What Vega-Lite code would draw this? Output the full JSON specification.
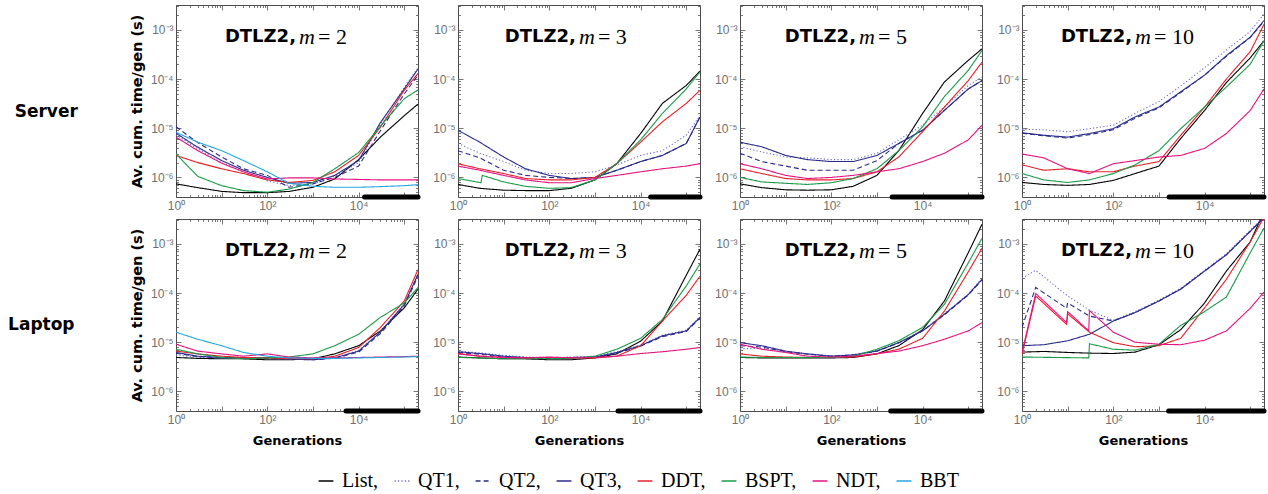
{
"$schema":"https://vega.github.io/schema/vega-lite/v6.json",
"background":"white",
"padding":{"left":8,"top":4,"right":2,"bottom":4},
"config":{
 "view":{"stroke":"#4d4d4d","strokeWidth":1},
 "axis":{"domain":false,"grid":false,"labelFont":"Liberation Sans","labelFontSize":12,"labelColor":"#707070","titleFont":"DejaVu Sans","titleFontWeight":"bold","titleFontSize":13,"titleColor":"black","tickColor":"#555555","tickWidth":0.8,"labelPadding":3,"labelFlush":false},
 "legend":{"orient":"bottom","direction":"horizontal","symbolType":"stroke","symbolSize":220,"symbolStrokeWidth":1.5,"labelFont":"Liberation Serif","labelFontSize":20,"labelColor":"black","columnPadding":12,"labelOffset":6,"offset":23,"padding":0,"layout":{"bottom":{"anchor":"middle"}}}
},
"datasets":{
"bars":[{"p":"S2","x":13500,"x2":200000},{"p":"S3","x":16600,"x2":200000},{"p":"S5","x":2150,"x2":200000},{"p":"S10","x":1670,"x2":200000},{"p":"L2","x":5300,"x2":200000},{"p":"L3","x":3200,"x2":200000},{"p":"L5","x":2000,"x2":200000},{"p":"L10","x":1630,"x2":200000}],
"lines":[
{"p":"S2","s":"List","x":1,"y":7.4e-7},{"p":"S2","s":"List","x":3,"y":6.2e-7},{"p":"S2","s":"List","x":10,"y":5.2e-7},{"p":"S2","s":"List","x":30,"y":4.9e-7},{"p":"S2","s":"List","x":100,"y":4.9e-7},{"p":"S2","s":"List","x":300,"y":5.2e-7},{"p":"S2","s":"List","x":1000,"y":6.3e-7},{"p":"S2","s":"List","x":3000,"y":9.3e-7},{"p":"S2","s":"List","x":10000,"y":2.3e-6},{"p":"S2","s":"List","x":30000,"y":6.6e-6},{"p":"S2","s":"List","x":100000,"y":1.8e-5},{"p":"S2","s":"List","x":200000,"y":3.1e-5},
{"p":"S2","s":"QT1","x":1,"y":7.4e-6},{"p":"S2","s":"QT1","x":3,"y":3.8e-6},{"p":"S2","s":"QT1","x":10,"y":2.0e-6},{"p":"S2","s":"QT1","x":30,"y":1.3e-6},{"p":"S2","s":"QT1","x":100,"y":8.5e-7},{"p":"S2","s":"QT1","x":300,"y":6.8e-7},{"p":"S2","s":"QT1","x":1000,"y":7.4e-7},{"p":"S2","s":"QT1","x":3000,"y":1.05e-6},{"p":"S2","s":"QT1","x":10000,"y":2.0e-6},{"p":"S2","s":"QT1","x":30000,"y":1.2e-5},{"p":"S2","s":"QT1","x":100000,"y":6.8e-5},{"p":"S2","s":"QT1","x":200000,"y":1.7e-4},
{"p":"S2","s":"QT2","x":1,"y":1.07e-5},{"p":"S2","s":"QT2","x":3,"y":5.1e-6},{"p":"S2","s":"QT2","x":10,"y":2.6e-6},{"p":"S2","s":"QT2","x":30,"y":1.5e-6},{"p":"S2","s":"QT2","x":100,"y":1.1e-6},{"p":"S2","s":"QT2","x":300,"y":6.3e-7},{"p":"S2","s":"QT2","x":1000,"y":7.4e-7},{"p":"S2","s":"QT2","x":3000,"y":1.0e-6},{"p":"S2","s":"QT2","x":10000,"y":1.7e-6},{"p":"S2","s":"QT2","x":30000,"y":8.9e-6},{"p":"S2","s":"QT2","x":100000,"y":5.0e-5},{"p":"S2","s":"QT2","x":200000,"y":1.2e-4},
{"p":"S2","s":"QT3","x":1,"y":7.9e-6},{"p":"S2","s":"QT3","x":3,"y":4.1e-6},{"p":"S2","s":"QT3","x":10,"y":2.2e-6},{"p":"S2","s":"QT3","x":30,"y":1.4e-6},{"p":"S2","s":"QT3","x":100,"y":1.0e-6},{"p":"S2","s":"QT3","x":300,"y":7.6e-7},{"p":"S2","s":"QT3","x":1000,"y":7.9e-7},{"p":"S2","s":"QT3","x":3000,"y":1.1e-6},{"p":"S2","s":"QT3","x":10000,"y":2.2e-6},{"p":"S2","s":"QT3","x":30000,"y":1.3e-5},{"p":"S2","s":"QT3","x":100000,"y":6.3e-5},{"p":"S2","s":"QT3","x":200000,"y":1.6e-4},
{"p":"S2","s":"DDT","x":1,"y":2.8e-6},{"p":"S2","s":"DDT","x":3,"y":2.0e-6},{"p":"S2","s":"DDT","x":10,"y":1.5e-6},{"p":"S2","s":"DDT","x":30,"y":1.2e-6},{"p":"S2","s":"DDT","x":100,"y":8.9e-7},{"p":"S2","s":"DDT","x":300,"y":7.9e-7},{"p":"S2","s":"DDT","x":1000,"y":8.7e-7},{"p":"S2","s":"DDT","x":3000,"y":1.3e-6},{"p":"S2","s":"DDT","x":10000,"y":2.8e-6},{"p":"S2","s":"DDT","x":30000,"y":1.05e-5},{"p":"S2","s":"DDT","x":100000,"y":5.9e-5},{"p":"S2","s":"DDT","x":200000,"y":1.3e-4},
{"p":"S2","s":"BSPT","x":1,"y":3.0e-6},{"p":"S2","s":"BSPT","x":3,"y":1.05e-6},{"p":"S2","s":"BSPT","x":10,"y":6.8e-7},{"p":"S2","s":"BSPT","x":30,"y":5.4e-7},{"p":"S2","s":"BSPT","x":100,"y":5.0e-7},{"p":"S2","s":"BSPT","x":300,"y":5.8e-7},{"p":"S2","s":"BSPT","x":1000,"y":7.9e-7},{"p":"S2","s":"BSPT","x":3000,"y":1.5e-6},{"p":"S2","s":"BSPT","x":10000,"y":3.2e-6},{"p":"S2","s":"BSPT","x":30000,"y":1.1e-5},{"p":"S2","s":"BSPT","x":100000,"y":4.0e-5},{"p":"S2","s":"BSPT","x":200000,"y":6.0e-5},
{"p":"S2","s":"NDT","x":1,"y":6.6e-6},{"p":"S2","s":"NDT","x":3,"y":3.5e-6},{"p":"S2","s":"NDT","x":10,"y":1.95e-6},{"p":"S2","s":"NDT","x":30,"y":1.3e-6},{"p":"S2","s":"NDT","x":100,"y":9.3e-7},{"p":"S2","s":"NDT","x":300,"y":9.8e-7},{"p":"S2","s":"NDT","x":1000,"y":9.8e-7},{"p":"S2","s":"NDT","x":3000,"y":9.3e-7},{"p":"S2","s":"NDT","x":10000,"y":9.1e-7},{"p":"S2","s":"NDT","x":30000,"y":8.9e-7},{"p":"S2","s":"NDT","x":100000,"y":8.9e-7},{"p":"S2","s":"NDT","x":200000,"y":8.9e-7},
{"p":"S2","s":"BBT","x":1,"y":8.3e-6},{"p":"S2","s":"BBT","x":3,"y":5.2e-6},{"p":"S2","s":"BBT","x":10,"y":3.5e-6},{"p":"S2","s":"BBT","x":30,"y":2.2e-6},{"p":"S2","s":"BBT","x":100,"y":1.3e-6},{"p":"S2","s":"BBT","x":300,"y":7.6e-7},{"p":"S2","s":"BBT","x":1000,"y":6.6e-7},{"p":"S2","s":"BBT","x":3000,"y":6.3e-7},{"p":"S2","s":"BBT","x":10000,"y":6.3e-7},{"p":"S2","s":"BBT","x":30000,"y":6.5e-7},{"p":"S2","s":"BBT","x":100000,"y":6.8e-7},{"p":"S2","s":"BBT","x":200000,"y":7.1e-7},
{"p":"S3","s":"List","x":1,"y":7.2e-7},{"p":"S3","s":"List","x":3,"y":6.0e-7},{"p":"S3","s":"List","x":10,"y":5.5e-7},{"p":"S3","s":"List","x":30,"y":5.4e-7},{"p":"S3","s":"List","x":100,"y":5.4e-7},{"p":"S3","s":"List","x":300,"y":6.0e-7},{"p":"S3","s":"List","x":1000,"y":8.9e-7},{"p":"S3","s":"List","x":3000,"y":1.9e-6},{"p":"S3","s":"List","x":10000,"y":7.8e-6},{"p":"S3","s":"List","x":30000,"y":3.2e-5},{"p":"S3","s":"List","x":100000,"y":7.4e-5},{"p":"S3","s":"List","x":200000,"y":1.45e-4},
{"p":"S3","s":"QT1","x":1,"y":4.9e-6},{"p":"S3","s":"QT1","x":3,"y":3.1e-6},{"p":"S3","s":"QT1","x":10,"y":2.1e-6},{"p":"S3","s":"QT1","x":30,"y":1.4e-6},{"p":"S3","s":"QT1","x":100,"y":1.2e-6},{"p":"S3","s":"QT1","x":300,"y":1.2e-6},{"p":"S3","s":"QT1","x":1000,"y":1.3e-6},{"p":"S3","s":"QT1","x":3000,"y":1.8e-6},{"p":"S3","s":"QT1","x":10000,"y":2.8e-6},{"p":"S3","s":"QT1","x":30000,"y":3.5e-6},{"p":"S3","s":"QT1","x":100000,"y":7.2e-6},{"p":"S3","s":"QT1","x":200000,"y":1.8e-5},
{"p":"S3","s":"QT2","x":1,"y":3.5e-6},{"p":"S3","s":"QT2","x":3,"y":2.5e-6},{"p":"S3","s":"QT2","x":10,"y":1.4e-6},{"p":"S3","s":"QT2","x":30,"y":1.1e-6},{"p":"S3","s":"QT2","x":100,"y":1.0e-6},{"p":"S3","s":"QT2","x":300,"y":9.5e-7},{"p":"S3","s":"QT2","x":1000,"y":1.0e-6},{"p":"S3","s":"QT2","x":3000,"y":1.4e-6},{"p":"S3","s":"QT2","x":10000,"y":2.1e-6},{"p":"S3","s":"QT2","x":30000,"y":2.8e-6},{"p":"S3","s":"QT2","x":100000,"y":4.9e-6},{"p":"S3","s":"QT2","x":200000,"y":1.7e-5},
{"p":"S3","s":"QT3","x":1,"y":9.1e-6},{"p":"S3","s":"QT3","x":3,"y":5.2e-6},{"p":"S3","s":"QT3","x":10,"y":2.6e-6},{"p":"S3","s":"QT3","x":30,"y":1.5e-6},{"p":"S3","s":"QT3","x":100,"y":1.1e-6},{"p":"S3","s":"QT3","x":300,"y":9.5e-7},{"p":"S3","s":"QT3","x":1000,"y":1.0e-6},{"p":"S3","s":"QT3","x":3000,"y":1.4e-6},{"p":"S3","s":"QT3","x":10000,"y":2.1e-6},{"p":"S3","s":"QT3","x":30000,"y":2.8e-6},{"p":"S3","s":"QT3","x":100000,"y":4.9e-6},{"p":"S3","s":"QT3","x":200000,"y":1.7e-5},
{"p":"S3","s":"DDT","x":1,"y":1.9e-6},{"p":"S3","s":"DDT","x":3,"y":1.5e-6},{"p":"S3","s":"DDT","x":10,"y":1.2e-6},{"p":"S3","s":"DDT","x":30,"y":9.5e-7},{"p":"S3","s":"DDT","x":100,"y":8.9e-7},{"p":"S3","s":"DDT","x":300,"y":8.9e-7},{"p":"S3","s":"DDT","x":1000,"y":1.0e-6},{"p":"S3","s":"DDT","x":3000,"y":1.9e-6},{"p":"S3","s":"DDT","x":10000,"y":5.2e-6},{"p":"S3","s":"DDT","x":30000,"y":1.35e-5},{"p":"S3","s":"DDT","x":100000,"y":3.2e-5},{"p":"S3","s":"DDT","x":200000,"y":5.9e-5},
{"p":"S3","s":"BSPT","x":1,"y":9.5e-7},{"p":"S3","s":"BSPT","x":3.2,"y":7.8e-7},{"p":"S3","s":"BSPT","x":3.4,"y":1.1e-6},{"p":"S3","s":"BSPT","x":10,"y":8.1e-7},{"p":"S3","s":"BSPT","x":30,"y":6.6e-7},{"p":"S3","s":"BSPT","x":100,"y":6.0e-7},{"p":"S3","s":"BSPT","x":300,"y":6.2e-7},{"p":"S3","s":"BSPT","x":1000,"y":8.9e-7},{"p":"S3","s":"BSPT","x":3000,"y":1.9e-6},{"p":"S3","s":"BSPT","x":10000,"y":5.8e-6},{"p":"S3","s":"BSPT","x":30000,"y":2.0e-5},{"p":"S3","s":"BSPT","x":100000,"y":6.3e-5},{"p":"S3","s":"BSPT","x":200000,"y":1.4e-4},
{"p":"S3","s":"NDT","x":1,"y":1.7e-6},{"p":"S3","s":"NDT","x":3,"y":1.4e-6},{"p":"S3","s":"NDT","x":10,"y":1.1e-6},{"p":"S3","s":"NDT","x":30,"y":8.9e-7},{"p":"S3","s":"NDT","x":100,"y":7.8e-7},{"p":"S3","s":"NDT","x":300,"y":7.8e-7},{"p":"S3","s":"NDT","x":1000,"y":9.5e-7},{"p":"S3","s":"NDT","x":3000,"y":1.1e-6},{"p":"S3","s":"NDT","x":10000,"y":1.3e-6},{"p":"S3","s":"NDT","x":30000,"y":1.5e-6},{"p":"S3","s":"NDT","x":100000,"y":1.7e-6},{"p":"S3","s":"NDT","x":200000,"y":1.9e-6},
{"p":"S5","s":"List","x":1,"y":7.4e-7},{"p":"S5","s":"List","x":3,"y":6.2e-7},{"p":"S5","s":"List","x":10,"y":5.6e-7},{"p":"S5","s":"List","x":30,"y":5.5e-7},{"p":"S5","s":"List","x":100,"y":5.6e-7},{"p":"S5","s":"List","x":300,"y":6.6e-7},{"p":"S5","s":"List","x":1000,"y":1.1e-6},{"p":"S5","s":"List","x":3000,"y":3.5e-6},{"p":"S5","s":"List","x":10000,"y":2.0e-5},{"p":"S5","s":"List","x":30000,"y":8.7e-5},{"p":"S5","s":"List","x":100000,"y":2.4e-4},{"p":"S5","s":"List","x":200000,"y":4.1e-4},
{"p":"S5","s":"QT1","x":1,"y":4.2e-6},{"p":"S5","s":"QT1","x":3,"y":3.3e-6},{"p":"S5","s":"QT1","x":10,"y":2.6e-6},{"p":"S5","s":"QT1","x":30,"y":2.5e-6},{"p":"S5","s":"QT1","x":100,"y":2.3e-6},{"p":"S5","s":"QT1","x":300,"y":2.3e-6},{"p":"S5","s":"QT1","x":1000,"y":3.1e-6},{"p":"S5","s":"QT1","x":3000,"y":5.8e-6},{"p":"S5","s":"QT1","x":10000,"y":1.15e-5},{"p":"S5","s":"QT1","x":30000,"y":2.7e-5},{"p":"S5","s":"QT1","x":100000,"y":7.4e-5},{"p":"S5","s":"QT1","x":200000,"y":1.1e-4},
{"p":"S5","s":"QT2","x":1,"y":3.1e-6},{"p":"S5","s":"QT2","x":3,"y":2.1e-6},{"p":"S5","s":"QT2","x":10,"y":1.7e-6},{"p":"S5","s":"QT2","x":30,"y":1.4e-6},{"p":"S5","s":"QT2","x":100,"y":1.4e-6},{"p":"S5","s":"QT2","x":300,"y":1.4e-6},{"p":"S5","s":"QT2","x":1000,"y":2.2e-6},{"p":"S5","s":"QT2","x":3000,"y":4.9e-6},{"p":"S5","s":"QT2","x":10000,"y":9.1e-6},{"p":"S5","s":"QT2","x":30000,"y":2.3e-5},{"p":"S5","s":"QT2","x":100000,"y":6.3e-5},{"p":"S5","s":"QT2","x":200000,"y":9.3e-5},
{"p":"S5","s":"QT3","x":1,"y":5.2e-6},{"p":"S5","s":"QT3","x":3,"y":4.2e-6},{"p":"S5","s":"QT3","x":10,"y":2.8e-6},{"p":"S5","s":"QT3","x":30,"y":2.3e-6},{"p":"S5","s":"QT3","x":100,"y":2.1e-6},{"p":"S5","s":"QT3","x":300,"y":2.1e-6},{"p":"S5","s":"QT3","x":1000,"y":2.8e-6},{"p":"S5","s":"QT3","x":3000,"y":4.9e-6},{"p":"S5","s":"QT3","x":10000,"y":9.1e-6},{"p":"S5","s":"QT3","x":30000,"y":2.3e-5},{"p":"S5","s":"QT3","x":100000,"y":6.3e-5},{"p":"S5","s":"QT3","x":200000,"y":9.3e-5},
{"p":"S5","s":"DDT","x":1,"y":1.5e-6},{"p":"S5","s":"DDT","x":3,"y":1.2e-6},{"p":"S5","s":"DDT","x":10,"y":9.5e-7},{"p":"S5","s":"DDT","x":30,"y":8.9e-7},{"p":"S5","s":"DDT","x":100,"y":8.9e-7},{"p":"S5","s":"DDT","x":300,"y":9.5e-7},{"p":"S5","s":"DDT","x":1000,"y":1.3e-6},{"p":"S5","s":"DDT","x":3000,"y":2.6e-6},{"p":"S5","s":"DDT","x":10000,"y":8.5e-6},{"p":"S5","s":"DDT","x":30000,"y":2.7e-5},{"p":"S5","s":"DDT","x":100000,"y":9.3e-5},{"p":"S5","s":"DDT","x":200000,"y":2.2e-4},
{"p":"S5","s":"BSPT","x":1,"y":1.0e-6},{"p":"S5","s":"BSPT","x":3,"y":8.1e-7},{"p":"S5","s":"BSPT","x":10,"y":7.6e-7},{"p":"S5","s":"BSPT","x":30,"y":7.2e-7},{"p":"S5","s":"BSPT","x":100,"y":7.8e-7},{"p":"S5","s":"BSPT","x":300,"y":9.5e-7},{"p":"S5","s":"BSPT","x":1000,"y":1.5e-6},{"p":"S5","s":"BSPT","x":3000,"y":3.5e-6},{"p":"S5","s":"BSPT","x":10000,"y":1.07e-5},{"p":"S5","s":"BSPT","x":30000,"y":4.4e-5},{"p":"S5","s":"BSPT","x":100000,"y":1.5e-4},{"p":"S5","s":"BSPT","x":200000,"y":3.8e-4},
{"p":"S5","s":"NDT","x":1,"y":1.9e-6},{"p":"S5","s":"NDT","x":3,"y":1.5e-6},{"p":"S5","s":"NDT","x":10,"y":1.1e-6},{"p":"S5","s":"NDT","x":30,"y":9.5e-7},{"p":"S5","s":"NDT","x":100,"y":1.0e-6},{"p":"S5","s":"NDT","x":300,"y":1.1e-6},{"p":"S5","s":"NDT","x":1000,"y":1.3e-6},{"p":"S5","s":"NDT","x":3000,"y":1.5e-6},{"p":"S5","s":"NDT","x":10000,"y":2.1e-6},{"p":"S5","s":"NDT","x":30000,"y":3.1e-6},{"p":"S5","s":"NDT","x":100000,"y":5.8e-6},{"p":"S5","s":"NDT","x":200000,"y":1.15e-5},
{"p":"S10","s":"List","x":1,"y":7.9e-7},{"p":"S10","s":"List","x":3,"y":7.2e-7},{"p":"S10","s":"List","x":10,"y":6.9e-7},{"p":"S10","s":"List","x":30,"y":7.2e-7},{"p":"S10","s":"List","x":100,"y":8.7e-7},{"p":"S10","s":"List","x":300,"y":1.2e-6},{"p":"S10","s":"List","x":1000,"y":1.7e-6},{"p":"S10","s":"List","x":3000,"y":6.2e-6},{"p":"S10","s":"List","x":10000,"y":2.3e-5},{"p":"S10","s":"List","x":30000,"y":8.5e-5},{"p":"S10","s":"List","x":100000,"y":2.7e-4},{"p":"S10","s":"List","x":200000,"y":6.0e-4},
{"p":"S10","s":"QT1","x":1,"y":9.5e-6},{"p":"S10","s":"QT1","x":3,"y":9.3e-6},{"p":"S10","s":"QT1","x":10,"y":8.5e-6},{"p":"S10","s":"QT1","x":30,"y":9.8e-6},{"p":"S10","s":"QT1","x":100,"y":1.15e-5},{"p":"S10","s":"QT1","x":300,"y":2.0e-5},{"p":"S10","s":"QT1","x":1000,"y":3.5e-5},{"p":"S10","s":"QT1","x":3000,"y":7.2e-5},{"p":"S10","s":"QT1","x":10000,"y":1.7e-4},{"p":"S10","s":"QT1","x":30000,"y":3.9e-4},{"p":"S10","s":"QT1","x":100000,"y":9.3e-4},{"p":"S10","s":"QT1","x":200000,"y":2.1e-3},
{"p":"S10","s":"QT2","x":1,"y":7.9e-6},{"p":"S10","s":"QT2","x":3,"y":7.0e-6},{"p":"S10","s":"QT2","x":10,"y":6.3e-6},{"p":"S10","s":"QT2","x":30,"y":7.4e-6},{"p":"S10","s":"QT2","x":100,"y":9.3e-6},{"p":"S10","s":"QT2","x":300,"y":1.6e-5},{"p":"S10","s":"QT2","x":1000,"y":2.6e-5},{"p":"S10","s":"QT2","x":3000,"y":5.3e-5},{"p":"S10","s":"QT2","x":10000,"y":1.2e-4},{"p":"S10","s":"QT2","x":30000,"y":2.9e-4},{"p":"S10","s":"QT2","x":100000,"y":7.0e-4},{"p":"S10","s":"QT2","x":200000,"y":1.5e-3},
{"p":"S10","s":"QT3","x":1,"y":8.1e-6},{"p":"S10","s":"QT3","x":3,"y":7.2e-6},{"p":"S10","s":"QT3","x":10,"y":6.6e-6},{"p":"S10","s":"QT3","x":30,"y":7.8e-6},{"p":"S10","s":"QT3","x":100,"y":9.8e-6},{"p":"S10","s":"QT3","x":300,"y":1.7e-5},{"p":"S10","s":"QT3","x":1000,"y":2.7e-5},{"p":"S10","s":"QT3","x":3000,"y":5.5e-5},{"p":"S10","s":"QT3","x":10000,"y":1.2e-4},{"p":"S10","s":"QT3","x":30000,"y":3.0e-4},{"p":"S10","s":"QT3","x":100000,"y":7.1e-4},{"p":"S10","s":"QT3","x":200000,"y":1.55e-3},
{"p":"S10","s":"DDT","x":1,"y":1.8e-6},{"p":"S10","s":"DDT","x":3,"y":1.4e-6},{"p":"S10","s":"DDT","x":10,"y":1.5e-6},{"p":"S10","s":"DDT","x":30,"y":1.3e-6},{"p":"S10","s":"DDT","x":100,"y":1.3e-6},{"p":"S10","s":"DDT","x":300,"y":1.7e-6},{"p":"S10","s":"DDT","x":1000,"y":2.1e-6},{"p":"S10","s":"DDT","x":3000,"y":7.2e-6},{"p":"S10","s":"DDT","x":10000,"y":2.7e-5},{"p":"S10","s":"DDT","x":30000,"y":1.0e-4},{"p":"S10","s":"DDT","x":100000,"y":3.6e-4},{"p":"S10","s":"DDT","x":200000,"y":1.3e-3},
{"p":"S10","s":"BSPT","x":1,"y":1.2e-6},{"p":"S10","s":"BSPT","x":3,"y":8.9e-7},{"p":"S10","s":"BSPT","x":10,"y":7.9e-7},{"p":"S10","s":"BSPT","x":30,"y":8.9e-7},{"p":"S10","s":"BSPT","x":100,"y":1.2e-6},{"p":"S10","s":"BSPT","x":300,"y":1.8e-6},{"p":"S10","s":"BSPT","x":1000,"y":3.5e-6},{"p":"S10","s":"BSPT","x":3000,"y":9.8e-6},{"p":"S10","s":"BSPT","x":10000,"y":2.7e-5},{"p":"S10","s":"BSPT","x":30000,"y":6.9e-5},{"p":"S10","s":"BSPT","x":100000,"y":2.0e-4},{"p":"S10","s":"BSPT","x":200000,"y":6.0e-4},
{"p":"S10","s":"NDT","x":1,"y":3.0e-6},{"p":"S10","s":"NDT","x":3,"y":2.5e-6},{"p":"S10","s":"NDT","x":10,"y":1.5e-6},{"p":"S10","s":"NDT","x":30,"y":1.2e-6},{"p":"S10","s":"NDT","x":100,"y":1.9e-6},{"p":"S10","s":"NDT","x":300,"y":2.2e-6},{"p":"S10","s":"NDT","x":1000,"y":2.6e-6},{"p":"S10","s":"NDT","x":3000,"y":2.8e-6},{"p":"S10","s":"NDT","x":10000,"y":3.9e-6},{"p":"S10","s":"NDT","x":30000,"y":7.8e-6},{"p":"S10","s":"NDT","x":100000,"y":2.3e-5},{"p":"S10","s":"NDT","x":200000,"y":6.3e-5},
{"p":"L2","s":"List","x":1,"y":4.9e-6},{"p":"L2","s":"List","x":3,"y":4.7e-6},{"p":"L2","s":"List","x":10,"y":4.6e-6},{"p":"L2","s":"List","x":30,"y":4.6e-6},{"p":"L2","s":"List","x":100,"y":4.4e-6},{"p":"L2","s":"List","x":300,"y":4.4e-6},{"p":"L2","s":"List","x":1000,"y":4.6e-6},{"p":"L2","s":"List","x":3000,"y":5.8e-6},{"p":"L2","s":"List","x":10000,"y":8.5e-6},{"p":"L2","s":"List","x":30000,"y":1.7e-5},{"p":"L2","s":"List","x":100000,"y":5.0e-5},{"p":"L2","s":"List","x":200000,"y":1.2e-4},
{"p":"L2","s":"QT1","x":1,"y":5.5e-6},{"p":"L2","s":"QT1","x":3,"y":5.0e-6},{"p":"L2","s":"QT1","x":10,"y":4.8e-6},{"p":"L2","s":"QT1","x":30,"y":4.7e-6},{"p":"L2","s":"QT1","x":100,"y":4.7e-6},{"p":"L2","s":"QT1","x":300,"y":4.6e-6},{"p":"L2","s":"QT1","x":1000,"y":4.5e-6},{"p":"L2","s":"QT1","x":3000,"y":4.9e-6},{"p":"L2","s":"QT1","x":10000,"y":6.8e-6},{"p":"L2","s":"QT1","x":30000,"y":1.65e-5},{"p":"L2","s":"QT1","x":100000,"y":6.0e-5},{"p":"L2","s":"QT1","x":200000,"y":2.5e-4},
{"p":"L2","s":"QT2","x":1,"y":6.0e-6},{"p":"L2","s":"QT2","x":3,"y":5.1e-6},{"p":"L2","s":"QT2","x":10,"y":4.8e-6},{"p":"L2","s":"QT2","x":30,"y":4.7e-6},{"p":"L2","s":"QT2","x":100,"y":4.7e-6},{"p":"L2","s":"QT2","x":300,"y":4.5e-6},{"p":"L2","s":"QT2","x":1000,"y":4.4e-6},{"p":"L2","s":"QT2","x":3000,"y":4.7e-6},{"p":"L2","s":"QT2","x":10000,"y":6.3e-6},{"p":"L2","s":"QT2","x":30000,"y":1.5e-5},{"p":"L2","s":"QT2","x":100000,"y":5.5e-5},{"p":"L2","s":"QT2","x":200000,"y":2.2e-4},
{"p":"L2","s":"QT3","x":1,"y":6.2e-6},{"p":"L2","s":"QT3","x":3,"y":5.2e-6},{"p":"L2","s":"QT3","x":10,"y":4.9e-6},{"p":"L2","s":"QT3","x":30,"y":4.8e-6},{"p":"L2","s":"QT3","x":100,"y":4.8e-6},{"p":"L2","s":"QT3","x":300,"y":4.6e-6},{"p":"L2","s":"QT3","x":1000,"y":4.4e-6},{"p":"L2","s":"QT3","x":3000,"y":4.8e-6},{"p":"L2","s":"QT3","x":10000,"y":6.6e-6},{"p":"L2","s":"QT3","x":30000,"y":1.6e-5},{"p":"L2","s":"QT3","x":100000,"y":5.9e-5},{"p":"L2","s":"QT3","x":200000,"y":2.4e-4},
{"p":"L2","s":"DDT","x":1,"y":6.6e-6},{"p":"L2","s":"DDT","x":3,"y":5.8e-6},{"p":"L2","s":"DDT","x":10,"y":5.2e-6},{"p":"L2","s":"DDT","x":30,"y":4.9e-6},{"p":"L2","s":"DDT","x":100,"y":4.8e-6},{"p":"L2","s":"DDT","x":300,"y":4.6e-6},{"p":"L2","s":"DDT","x":1000,"y":4.6e-6},{"p":"L2","s":"DDT","x":3000,"y":5.2e-6},{"p":"L2","s":"DDT","x":10000,"y":7.8e-6},{"p":"L2","s":"DDT","x":30000,"y":2.0e-5},{"p":"L2","s":"DDT","x":100000,"y":6.9e-5},{"p":"L2","s":"DDT","x":200000,"y":3.0e-4},
{"p":"L2","s":"BSPT","x":1,"y":7.2e-6},{"p":"L2","s":"BSPT","x":3,"y":5.8e-6},{"p":"L2","s":"BSPT","x":10,"y":4.9e-6},{"p":"L2","s":"BSPT","x":30,"y":4.6e-6},{"p":"L2","s":"BSPT","x":100,"y":4.8e-6},{"p":"L2","s":"BSPT","x":300,"y":5.0e-6},{"p":"L2","s":"BSPT","x":1000,"y":5.8e-6},{"p":"L2","s":"BSPT","x":3000,"y":8.5e-6},{"p":"L2","s":"BSPT","x":10000,"y":1.45e-5},{"p":"L2","s":"BSPT","x":30000,"y":3.2e-5},{"p":"L2","s":"BSPT","x":100000,"y":6.3e-5},{"p":"L2","s":"BSPT","x":200000,"y":1.3e-4},
{"p":"L2","s":"NDT","x":1,"y":9.1e-6},{"p":"L2","s":"NDT","x":3,"y":6.6e-6},{"p":"L2","s":"NDT","x":10,"y":5.8e-6},{"p":"L2","s":"NDT","x":30,"y":5.2e-6},{"p":"L2","s":"NDT","x":100,"y":5.8e-6},{"p":"L2","s":"NDT","x":300,"y":5.0e-6},{"p":"L2","s":"NDT","x":1000,"y":4.8e-6},{"p":"L2","s":"NDT","x":3000,"y":4.8e-6},{"p":"L2","s":"NDT","x":10000,"y":4.9e-6},{"p":"L2","s":"NDT","x":30000,"y":5.0e-6},{"p":"L2","s":"NDT","x":100000,"y":5.1e-6},{"p":"L2","s":"NDT","x":200000,"y":5.2e-6},
{"p":"L2","s":"BBT","x":1,"y":1.6e-5},{"p":"L2","s":"BBT","x":3,"y":1.15e-5},{"p":"L2","s":"BBT","x":10,"y":8.5e-6},{"p":"L2","s":"BBT","x":30,"y":6.2e-6},{"p":"L2","s":"BBT","x":100,"y":5.2e-6},{"p":"L2","s":"BBT","x":300,"y":4.8e-6},{"p":"L2","s":"BBT","x":1000,"y":4.7e-6},{"p":"L2","s":"BBT","x":3000,"y":4.7e-6},{"p":"L2","s":"BBT","x":10000,"y":4.8e-6},{"p":"L2","s":"BBT","x":30000,"y":4.9e-6},{"p":"L2","s":"BBT","x":100000,"y":5.0e-6},{"p":"L2","s":"BBT","x":200000,"y":5.1e-6},
{"p":"L3","s":"List","x":1,"y":5.0e-6},{"p":"L3","s":"List","x":3,"y":4.8e-6},{"p":"L3","s":"List","x":10,"y":4.6e-6},{"p":"L3","s":"List","x":30,"y":4.6e-6},{"p":"L3","s":"List","x":100,"y":4.4e-6},{"p":"L3","s":"List","x":300,"y":4.4e-6},{"p":"L3","s":"List","x":1000,"y":4.8e-6},{"p":"L3","s":"List","x":3000,"y":5.8e-6},{"p":"L3","s":"List","x":10000,"y":1.05e-5},{"p":"L3","s":"List","x":30000,"y":2.7e-5},{"p":"L3","s":"List","x":100000,"y":2.3e-4},{"p":"L3","s":"List","x":200000,"y":7.8e-4},
{"p":"L3","s":"QT1","x":1,"y":6.6e-6},{"p":"L3","s":"QT1","x":3,"y":6.1e-6},{"p":"L3","s":"QT1","x":10,"y":5.4e-6},{"p":"L3","s":"QT1","x":30,"y":5.0e-6},{"p":"L3","s":"QT1","x":100,"y":4.9e-6},{"p":"L3","s":"QT1","x":300,"y":5.0e-6},{"p":"L3","s":"QT1","x":1000,"y":5.2e-6},{"p":"L3","s":"QT1","x":3000,"y":6.4e-6},{"p":"L3","s":"QT1","x":10000,"y":8.8e-6},{"p":"L3","s":"QT1","x":30000,"y":1.4e-5},{"p":"L3","s":"QT1","x":100000,"y":1.75e-5},{"p":"L3","s":"QT1","x":200000,"y":3.3e-5},
{"p":"L3","s":"QT2","x":1,"y":6.2e-6},{"p":"L3","s":"QT2","x":3,"y":5.7e-6},{"p":"L3","s":"QT2","x":10,"y":5.0e-6},{"p":"L3","s":"QT2","x":30,"y":4.8e-6},{"p":"L3","s":"QT2","x":100,"y":4.7e-6},{"p":"L3","s":"QT2","x":300,"y":4.8e-6},{"p":"L3","s":"QT2","x":1000,"y":4.9e-6},{"p":"L3","s":"QT2","x":3000,"y":6.0e-6},{"p":"L3","s":"QT2","x":10000,"y":8.3e-6},{"p":"L3","s":"QT2","x":30000,"y":1.3e-5},{"p":"L3","s":"QT2","x":100000,"y":1.65e-5},{"p":"L3","s":"QT2","x":200000,"y":3.1e-5},
{"p":"L3","s":"QT3","x":1,"y":6.4e-6},{"p":"L3","s":"QT3","x":3,"y":5.9e-6},{"p":"L3","s":"QT3","x":10,"y":5.2e-6},{"p":"L3","s":"QT3","x":30,"y":4.9e-6},{"p":"L3","s":"QT3","x":100,"y":4.8e-6},{"p":"L3","s":"QT3","x":300,"y":4.9e-6},{"p":"L3","s":"QT3","x":1000,"y":5.0e-6},{"p":"L3","s":"QT3","x":3000,"y":6.2e-6},{"p":"L3","s":"QT3","x":10000,"y":8.5e-6},{"p":"L3","s":"QT3","x":30000,"y":1.35e-5},{"p":"L3","s":"QT3","x":100000,"y":1.7e-5},{"p":"L3","s":"QT3","x":200000,"y":3.2e-5},
{"p":"L3","s":"DDT","x":1,"y":5.9e-6},{"p":"L3","s":"DDT","x":3,"y":5.2e-6},{"p":"L3","s":"DDT","x":10,"y":4.9e-6},{"p":"L3","s":"DDT","x":30,"y":4.8e-6},{"p":"L3","s":"DDT","x":100,"y":4.9e-6},{"p":"L3","s":"DDT","x":300,"y":4.8e-6},{"p":"L3","s":"DDT","x":1000,"y":4.8e-6},{"p":"L3","s":"DDT","x":3000,"y":5.2e-6},{"p":"L3","s":"DDT","x":10000,"y":8.5e-6},{"p":"L3","s":"DDT","x":30000,"y":2.7e-5},{"p":"L3","s":"DDT","x":100000,"y":9.0e-5},{"p":"L3","s":"DDT","x":200000,"y":2.2e-4},
{"p":"L3","s":"BSPT","x":1,"y":4.9e-6},{"p":"L3","s":"BSPT","x":3,"y":4.8e-6},{"p":"L3","s":"BSPT","x":10,"y":4.6e-6},{"p":"L3","s":"BSPT","x":30,"y":4.6e-6},{"p":"L3","s":"BSPT","x":100,"y":4.6e-6},{"p":"L3","s":"BSPT","x":300,"y":4.7e-6},{"p":"L3","s":"BSPT","x":1000,"y":5.2e-6},{"p":"L3","s":"BSPT","x":3000,"y":7.2e-6},{"p":"L3","s":"BSPT","x":10000,"y":1.2e-5},{"p":"L3","s":"BSPT","x":30000,"y":2.9e-5},{"p":"L3","s":"BSPT","x":100000,"y":1.4e-4},{"p":"L3","s":"BSPT","x":200000,"y":3.9e-4},
{"p":"L3","s":"NDT","x":1,"y":5.8e-6},{"p":"L3","s":"NDT","x":3,"y":5.2e-6},{"p":"L3","s":"NDT","x":10,"y":4.9e-6},{"p":"L3","s":"NDT","x":30,"y":4.8e-6},{"p":"L3","s":"NDT","x":100,"y":5.0e-6},{"p":"L3","s":"NDT","x":300,"y":4.8e-6},{"p":"L3","s":"NDT","x":1000,"y":4.9e-6},{"p":"L3","s":"NDT","x":3000,"y":5.2e-6},{"p":"L3","s":"NDT","x":10000,"y":5.9e-6},{"p":"L3","s":"NDT","x":30000,"y":6.4e-6},{"p":"L3","s":"NDT","x":100000,"y":7.2e-6},{"p":"L3","s":"NDT","x":200000,"y":7.8e-6},
{"p":"L5","s":"List","x":1,"y":4.9e-6},{"p":"L5","s":"List","x":3,"y":4.8e-6},{"p":"L5","s":"List","x":10,"y":4.8e-6},{"p":"L5","s":"List","x":30,"y":4.8e-6},{"p":"L5","s":"List","x":100,"y":4.8e-6},{"p":"L5","s":"List","x":300,"y":4.9e-6},{"p":"L5","s":"List","x":1000,"y":5.8e-6},{"p":"L5","s":"List","x":3000,"y":8.5e-6},{"p":"L5","s":"List","x":10000,"y":1.8e-5},{"p":"L5","s":"List","x":30000,"y":6.9e-5},{"p":"L5","s":"List","x":100000,"y":6.6e-4},{"p":"L5","s":"List","x":200000,"y":2.5e-3},
{"p":"L5","s":"QT1","x":1,"y":7.4e-6},{"p":"L5","s":"QT1","x":3,"y":7.5e-6},{"p":"L5","s":"QT1","x":10,"y":6.5e-6},{"p":"L5","s":"QT1","x":30,"y":5.8e-6},{"p":"L5","s":"QT1","x":100,"y":5.3e-6},{"p":"L5","s":"QT1","x":300,"y":5.6e-6},{"p":"L5","s":"QT1","x":1000,"y":6.8e-6},{"p":"L5","s":"QT1","x":3000,"y":1.0e-5},{"p":"L5","s":"QT1","x":10000,"y":1.75e-5},{"p":"L5","s":"QT1","x":30000,"y":3.8e-5},{"p":"L5","s":"QT1","x":100000,"y":9.5e-5},{"p":"L5","s":"QT1","x":200000,"y":2.0e-4},
{"p":"L5","s":"QT2","x":1,"y":8.5e-6},{"p":"L5","s":"QT2","x":3,"y":8.0e-6},{"p":"L5","s":"QT2","x":10,"y":6.4e-6},{"p":"L5","s":"QT2","x":30,"y":5.7e-6},{"p":"L5","s":"QT2","x":100,"y":5.2e-6},{"p":"L5","s":"QT2","x":300,"y":5.5e-6},{"p":"L5","s":"QT2","x":1000,"y":6.6e-6},{"p":"L5","s":"QT2","x":3000,"y":9.7e-6},{"p":"L5","s":"QT2","x":10000,"y":1.7e-5},{"p":"L5","s":"QT2","x":30000,"y":3.6e-5},{"p":"L5","s":"QT2","x":100000,"y":9.1e-5},{"p":"L5","s":"QT2","x":200000,"y":1.85e-4},
{"p":"L5","s":"QT3","x":1,"y":9.8e-6},{"p":"L5","s":"QT3","x":3,"y":8.5e-6},{"p":"L5","s":"QT3","x":10,"y":6.6e-6},{"p":"L5","s":"QT3","x":30,"y":5.8e-6},{"p":"L5","s":"QT3","x":100,"y":5.2e-6},{"p":"L5","s":"QT3","x":300,"y":5.5e-6},{"p":"L5","s":"QT3","x":1000,"y":6.6e-6},{"p":"L5","s":"QT3","x":3000,"y":9.8e-6},{"p":"L5","s":"QT3","x":10000,"y":1.7e-5},{"p":"L5","s":"QT3","x":30000,"y":3.7e-5},{"p":"L5","s":"QT3","x":100000,"y":9.3e-5},{"p":"L5","s":"QT3","x":200000,"y":1.9e-4},
{"p":"L5","s":"DDT","x":1,"y":5.8e-6},{"p":"L5","s":"DDT","x":3,"y":5.2e-6},{"p":"L5","s":"DDT","x":10,"y":5.0e-6},{"p":"L5","s":"DDT","x":30,"y":4.9e-6},{"p":"L5","s":"DDT","x":100,"y":4.9e-6},{"p":"L5","s":"DDT","x":300,"y":5.0e-6},{"p":"L5","s":"DDT","x":1000,"y":5.8e-6},{"p":"L5","s":"DDT","x":3000,"y":7.2e-6},{"p":"L5","s":"DDT","x":10000,"y":1.2e-5},{"p":"L5","s":"DDT","x":30000,"y":4.3e-5},{"p":"L5","s":"DDT","x":100000,"y":2.7e-4},{"p":"L5","s":"DDT","x":200000,"y":8.1e-4},
{"p":"L5","s":"BSPT","x":1,"y":5.0e-6},{"p":"L5","s":"BSPT","x":3,"y":4.9e-6},{"p":"L5","s":"BSPT","x":10,"y":4.9e-6},{"p":"L5","s":"BSPT","x":30,"y":4.9e-6},{"p":"L5","s":"BSPT","x":100,"y":4.9e-6},{"p":"L5","s":"BSPT","x":300,"y":5.2e-6},{"p":"L5","s":"BSPT","x":1000,"y":7.2e-6},{"p":"L5","s":"BSPT","x":3000,"y":1.07e-5},{"p":"L5","s":"BSPT","x":10000,"y":2.0e-5},{"p":"L5","s":"BSPT","x":30000,"y":5.9e-5},{"p":"L5","s":"BSPT","x":100000,"y":4.1e-4},{"p":"L5","s":"BSPT","x":200000,"y":1.3e-3},
{"p":"L5","s":"NDT","x":1,"y":9.1e-6},{"p":"L5","s":"NDT","x":3,"y":7.2e-6},{"p":"L5","s":"NDT","x":10,"y":6.2e-6},{"p":"L5","s":"NDT","x":30,"y":5.2e-6},{"p":"L5","s":"NDT","x":100,"y":5.0e-6},{"p":"L5","s":"NDT","x":300,"y":5.2e-6},{"p":"L5","s":"NDT","x":1000,"y":5.9e-6},{"p":"L5","s":"NDT","x":3000,"y":6.6e-6},{"p":"L5","s":"NDT","x":10000,"y":8.5e-6},{"p":"L5","s":"NDT","x":30000,"y":1.15e-5},{"p":"L5","s":"NDT","x":100000,"y":1.7e-5},{"p":"L5","s":"NDT","x":200000,"y":2.5e-5},
{"p":"L10","s":"List","x":1,"y":6.3e-6},{"p":"L10","s":"List","x":3,"y":6.5e-6},{"p":"L10","s":"List","x":10,"y":6.2e-6},{"p":"L10","s":"List","x":30,"y":6.0e-6},{"p":"L10","s":"List","x":100,"y":5.9e-6},{"p":"L10","s":"List","x":300,"y":6.3e-6},{"p":"L10","s":"List","x":1000,"y":8.9e-6},{"p":"L10","s":"List","x":3000,"y":1.8e-5},{"p":"L10","s":"List","x":10000,"y":6.3e-5},{"p":"L10","s":"List","x":30000,"y":2.8e-4},{"p":"L10","s":"List","x":100000,"y":1.1e-3},{"p":"L10","s":"List","x":200000,"y":4.5e-3},
{"p":"L10","s":"QT1","x":1,"y":2.0e-4},{"p":"L10","s":"QT1","x":2,"y":2.9e-4},{"p":"L10","s":"QT1","x":10,"y":8.7e-5},{"p":"L10","s":"QT1","x":30,"y":4.5e-5},{"p":"L10","s":"QT1","x":100,"y":2.8e-5},{"p":"L10","s":"QT1","x":300,"y":4.2e-5},{"p":"L10","s":"QT1","x":1000,"y":7.2e-5},{"p":"L10","s":"QT1","x":3000,"y":1.25e-4},{"p":"L10","s":"QT1","x":9000,"y":2.7e-4},{"p":"L10","s":"QT1","x":30000,"y":6.3e-4},{"p":"L10","s":"QT1","x":100000,"y":1.9e-3},{"p":"L10","s":"QT1","x":200000,"y":3.6e-3},
{"p":"L10","s":"QT2","x":1,"y":2.0e-5},{"p":"L10","s":"QT2","x":2,"y":1.3e-4},{"p":"L10","s":"QT2","x":9.5,"y":4.9e-5},{"p":"L10","s":"QT2","x":10,"y":6.3e-5},{"p":"L10","s":"QT2","x":30,"y":3.4e-5},{"p":"L10","s":"QT2","x":100,"y":2.7e-5},{"p":"L10","s":"QT2","x":300,"y":4.0e-5},{"p":"L10","s":"QT2","x":1000,"y":6.9e-5},{"p":"L10","s":"QT2","x":3000,"y":1.2e-4},{"p":"L10","s":"QT2","x":9000,"y":2.6e-4},{"p":"L10","s":"QT2","x":30000,"y":6.0e-4},{"p":"L10","s":"QT2","x":100000,"y":1.8e-3},{"p":"L10","s":"QT2","x":200000,"y":3.4e-3},
{"p":"L10","s":"QT3","x":1,"y":8.5e-6},{"p":"L10","s":"QT3","x":3,"y":8.9e-6},{"p":"L10","s":"QT3","x":10,"y":1.07e-5},{"p":"L10","s":"QT3","x":30,"y":1.45e-5},{"p":"L10","s":"QT3","x":100,"y":2.7e-5},{"p":"L10","s":"QT3","x":300,"y":4.0e-5},{"p":"L10","s":"QT3","x":1000,"y":6.9e-5},{"p":"L10","s":"QT3","x":3000,"y":1.2e-4},{"p":"L10","s":"QT3","x":9000,"y":2.6e-4},{"p":"L10","s":"QT3","x":30000,"y":6.0e-4},{"p":"L10","s":"QT3","x":100000,"y":1.8e-3},{"p":"L10","s":"QT3","x":200000,"y":3.4e-3},
{"p":"L10","s":"DDT","x":1,"y":5.7e-6},{"p":"L10","s":"DDT","x":2,"y":8.7e-5},{"p":"L10","s":"DDT","x":9.5,"y":2.3e-5},{"p":"L10","s":"DDT","x":10,"y":3.8e-5},{"p":"L10","s":"DDT","x":30,"y":1.6e-5},{"p":"L10","s":"DDT","x":100,"y":9.8e-6},{"p":"L10","s":"DDT","x":300,"y":8.1e-6},{"p":"L10","s":"DDT","x":1000,"y":8.5e-6},{"p":"L10","s":"DDT","x":3000,"y":1.2e-5},{"p":"L10","s":"DDT","x":10000,"y":5.0e-5},{"p":"L10","s":"DDT","x":30000,"y":1.9e-4},{"p":"L10","s":"DDT","x":100000,"y":1.1e-3},{"p":"L10","s":"DDT","x":200000,"y":3.5e-3},
{"p":"L10","s":"BSPT","x":1,"y":5.0e-6},{"p":"L10","s":"BSPT","x":29,"y":4.8e-6},{"p":"L10","s":"BSPT","x":30,"y":9.3e-6},{"p":"L10","s":"BSPT","x":100,"y":7.2e-6},{"p":"L10","s":"BSPT","x":300,"y":6.9e-6},{"p":"L10","s":"BSPT","x":1000,"y":9.1e-6},{"p":"L10","s":"BSPT","x":3000,"y":2.2e-5},{"p":"L10","s":"BSPT","x":10000,"y":4.2e-5},{"p":"L10","s":"BSPT","x":30000,"y":8.3e-5},{"p":"L10","s":"BSPT","x":100000,"y":6.6e-4},{"p":"L10","s":"BSPT","x":200000,"y":2.1e-3},
{"p":"L10","s":"NDT","x":1,"y":6.2e-6},{"p":"L10","s":"NDT","x":2,"y":9.8e-5},{"p":"L10","s":"NDT","x":9.5,"y":2.5e-5},{"p":"L10","s":"NDT","x":10,"y":4.2e-5},{"p":"L10","s":"NDT","x":29,"y":1.7e-5},{"p":"L10","s":"NDT","x":30,"y":4.4e-5},{"p":"L10","s":"NDT","x":100,"y":1.6e-5},{"p":"L10","s":"NDT","x":300,"y":1.0e-5},{"p":"L10","s":"NDT","x":1000,"y":9.1e-6},{"p":"L10","s":"NDT","x":3000,"y":8.9e-6},{"p":"L10","s":"NDT","x":10000,"y":1.1e-5},{"p":"L10","s":"NDT","x":30000,"y":1.7e-5},{"p":"L10","s":"NDT","x":100000,"y":4.9e-5},{"p":"L10","s":"NDT","x":200000,"y":1.05e-4}
]},
"spacing":6,
"vconcat":[
{"title":{"text":"Server","orient":"left","anchor":"middle","angle":0,"align":"right","baseline":"middle","font":"DejaVu Sans","fontWeight":"bold","fontSize":17,"offset":-12,"dy":4,"color":"black"},
 "spacing":10,
 "hconcat":[
 {"width":242,"height":192,"resolve":{"axis":{"x":"independent","y":"independent"}},"layer":[
  {"data":{"name":"lines"},"transform":[{"filter":"datum.p=='S2'"}],"mark":{"type":"line","strokeWidth":1.1,"clip":true},"encoding":{
   "x":{"field":"x","type":"quantitative","scale":{"type":"log","domain":[1,200000],"nice":false},"axis":{"orient":"bottom","values":[1,100,10000],"ticks":false,"labelExpr":"datum.value<3?'10⁰':datum.value<300?'10²':'10⁴'","title":null}},
   "y":{"field":"y","type":"quantitative","scale":{"type":"log","domain":[4e-7,3.2e-3],"nice":false},"axis":{"orient":"left","values":[1e-6,1e-5,1e-4,1e-3],"ticks":false,"labelExpr":"datum.value<3e-6?'10⁻⁶':datum.value<3e-5?'10⁻⁵':datum.value<3e-4?'10⁻⁴':'10⁻³'","title":"Av. cum. time/gen (s)","titlePadding":6,"titleFontSize":14.5}},
   "color":{"field":"s","type":"nominal","scale":{"domain":["List","QT1","QT2","QT3","DDT","BSPT","NDT","BBT"],"range":["#000000","#6a6ac8","#2b2b8c","#2b2b8c","#e8202a","#1a9a48","#e6127f","#22a7e0"]},"legend":{"title":null,"labelExpr":"datum.label=='BBT'?'BBT':datum.label+','"}},
   "strokeDash":{"field":"s","type":"nominal","scale":{"domain":["List","QT1","QT2","QT3","DDT","BSPT","NDT","BBT"],"range":[[1,0],[1.2,2.2],[5,3],[1,0],[1,0],[1,0],[1,0],[1,0]]},"legend":{"title":null,"labelExpr":"datum.label=='BBT'?'BBT':datum.label+','"}}}},
  {"data":{"name":"bars"},"transform":[{"filter":"datum.p=='S2'"}],"mark":{"type":"rule","strokeWidth":5,"color":"black","strokeCap":"round"},"encoding":{
   "x":{"field":"x","type":"quantitative","scale":{"type":"log","domain":[1,200000],"nice":false},"axis":{"orient":"bottom","values":[1,2,3,4,5,6,7,8,9,10,20,30,40,50,60,70,80,90,100,200,300,400,500,600,700,800,900,1000,2000,3000,4000,5000,6000,7000,8000,9000,10000,20000,30000,40000,50000,60000,70000,80000,90000,100000,200000],"labels":false,"title":null,"tickSize":{"condition":{"test":"abs(log(datum.value)/LN10-round(log(datum.value)/LN10))<0.01","value":-5},"value":-2.5}}},
   "x2":{"field":"x2"},
   "y":{"datum":4e-7,"type":"quantitative","scale":{"type":"log","domain":[4e-7,3.2e-3],"nice":false},"axis":{"orient":"left","values":[4e-7,5e-7,6e-7,7e-7,8e-7,9e-7,1e-6,2e-6,3e-6,4e-6,5e-6,6e-6,7e-6,8e-6,9e-6,1e-5,2e-5,3e-5,4e-5,5e-5,6e-5,7e-5,8e-5,9e-5,1e-4,2e-4,3e-4,4e-4,5e-4,6e-4,7e-4,8e-4,9e-4,1e-3,2e-3,3e-3],"labels":false,"title":null,"tickSize":{"condition":{"test":"abs(log(datum.value)/LN10-round(log(datum.value)/LN10))<0.01","value":-5},"value":-2.5}}}}},
  {"data":{"values":[{}]},"mark":{"type":"text","text":"DTLZ2,","align":"right","baseline":"middle","font":"DejaVu Sans","fontWeight":"bold","fontSize":18},"encoding":{
   "x":{"datum":425,"type":"quantitative","scale":{"type":"log","domain":[1,200000],"nice":false},"axis":{"orient":"top","values":[1,2,3,4,5,6,7,8,9,10,20,30,40,50,60,70,80,90,100,200,300,400,500,600,700,800,900,1000,2000,3000,4000,5000,6000,7000,8000,9000,10000,20000,30000,40000,50000,60000,70000,80000,90000,100000,200000],"labels":false,"title":null,"tickSize":{"condition":{"test":"abs(log(datum.value)/LN10-round(log(datum.value)/LN10))<0.01","value":-5},"value":-2.5}}},
   "y":{"datum":7.2e-4,"type":"quantitative","scale":{"type":"log","domain":[4e-7,3.2e-3],"nice":false},"axis":{"orient":"right","values":[4e-7,5e-7,6e-7,7e-7,8e-7,9e-7,1e-6,2e-6,3e-6,4e-6,5e-6,6e-6,7e-6,8e-6,9e-6,1e-5,2e-5,3e-5,4e-5,5e-5,6e-5,7e-5,8e-5,9e-5,1e-4,2e-4,3e-4,4e-4,5e-4,6e-4,7e-4,8e-4,9e-4,1e-3,2e-3,3e-3],"labels":false,"title":null,"tickSize":{"condition":{"test":"abs(log(datum.value)/LN10-round(log(datum.value)/LN10))<0.01","value":-5},"value":-2.5}}}}},
  {"data":{"values":[{}]},"mark":{"type":"text","text":"m","align":"left","baseline":"middle","font":"Liberation Serif","fontStyle":"italic","fontSize":22,"dx":3},"encoding":{"x":{"datum":425,"type":"quantitative","axis":null},"y":{"datum":7.2e-4,"type":"quantitative","axis":null}}},
  {"data":{"values":[{}]},"mark":{"type":"text","text":"= 2","align":"left","baseline":"middle","font":"Liberation Serif","fontSize":22,"dx":22},"encoding":{"x":{"datum":425,"type":"quantitative","axis":null},"y":{"datum":7.2e-4,"type":"quantitative","axis":null}}}
 ]},
 {"width":242,"height":192,"resolve":{"axis":{"x":"independent","y":"independent"}},"layer":[
  {"data":{"name":"lines"},"transform":[{"filter":"datum.p=='S3'"}],"mark":{"type":"line","strokeWidth":1.1,"clip":true},"encoding":{
   "x":{"field":"x","type":"quantitative","scale":{"type":"log","domain":[1,200000],"nice":false},"axis":{"orient":"bottom","values":[1,100,10000],"ticks":false,"labelExpr":"datum.value<3?'10⁰':datum.value<300?'10²':'10⁴'","title":null}},
   "y":{"field":"y","type":"quantitative","scale":{"type":"log","domain":[4e-7,3.2e-3],"nice":false},"axis":{"orient":"left","values":[1e-6,1e-5,1e-4,1e-3],"ticks":false,"labelExpr":"datum.value<3e-6?'10⁻⁶':datum.value<3e-5?'10⁻⁵':datum.value<3e-4?'10⁻⁴':'10⁻³'","title":null}},
   "color":{"field":"s","type":"nominal","scale":{"domain":["List","QT1","QT2","QT3","DDT","BSPT","NDT","BBT"],"range":["#000000","#6a6ac8","#2b2b8c","#2b2b8c","#e8202a","#1a9a48","#e6127f","#22a7e0"]},"legend":{"title":null,"labelExpr":"datum.label=='BBT'?'BBT':datum.label+','"}},
   "strokeDash":{"field":"s","type":"nominal","scale":{"domain":["List","QT1","QT2","QT3","DDT","BSPT","NDT","BBT"],"range":[[1,0],[1.2,2.2],[5,3],[1,0],[1,0],[1,0],[1,0],[1,0]]},"legend":{"title":null,"labelExpr":"datum.label=='BBT'?'BBT':datum.label+','"}}}},
  {"data":{"name":"bars"},"transform":[{"filter":"datum.p=='S3'"}],"mark":{"type":"rule","strokeWidth":5,"color":"black","strokeCap":"round"},"encoding":{
   "x":{"field":"x","type":"quantitative","scale":{"type":"log","domain":[1,200000],"nice":false},"axis":{"orient":"bottom","values":[1,2,3,4,5,6,7,8,9,10,20,30,40,50,60,70,80,90,100,200,300,400,500,600,700,800,900,1000,2000,3000,4000,5000,6000,7000,8000,9000,10000,20000,30000,40000,50000,60000,70000,80000,90000,100000,200000],"labels":false,"title":null,"tickSize":{"condition":{"test":"abs(log(datum.value)/LN10-round(log(datum.value)/LN10))<0.01","value":-5},"value":-2.5}}},
   "x2":{"field":"x2"},
   "y":{"datum":4e-7,"type":"quantitative","scale":{"type":"log","domain":[4e-7,3.2e-3],"nice":false},"axis":{"orient":"left","values":[4e-7,5e-7,6e-7,7e-7,8e-7,9e-7,1e-6,2e-6,3e-6,4e-6,5e-6,6e-6,7e-6,8e-6,9e-6,1e-5,2e-5,3e-5,4e-5,5e-5,6e-5,7e-5,8e-5,9e-5,1e-4,2e-4,3e-4,4e-4,5e-4,6e-4,7e-4,8e-4,9e-4,1e-3,2e-3,3e-3],"labels":false,"title":null,"tickSize":{"condition":{"test":"abs(log(datum.value)/LN10-round(log(datum.value)/LN10))<0.01","value":-5},"value":-2.5}}}}},
  {"data":{"values":[{}]},"mark":{"type":"text","text":"DTLZ2,","align":"right","baseline":"middle","font":"DejaVu Sans","fontWeight":"bold","fontSize":18},"encoding":{
   "x":{"datum":382,"type":"quantitative","scale":{"type":"log","domain":[1,200000],"nice":false},"axis":{"orient":"top","values":[1,2,3,4,5,6,7,8,9,10,20,30,40,50,60,70,80,90,100,200,300,400,500,600,700,800,900,1000,2000,3000,4000,5000,6000,7000,8000,9000,10000,20000,30000,40000,50000,60000,70000,80000,90000,100000,200000],"labels":false,"title":null,"tickSize":{"condition":{"test":"abs(log(datum.value)/LN10-round(log(datum.value)/LN10))<0.01","value":-5},"value":-2.5}}},
   "y":{"datum":7.2e-4,"type":"quantitative","scale":{"type":"log","domain":[4e-7,3.2e-3],"nice":false},"axis":{"orient":"right","values":[4e-7,5e-7,6e-7,7e-7,8e-7,9e-7,1e-6,2e-6,3e-6,4e-6,5e-6,6e-6,7e-6,8e-6,9e-6,1e-5,2e-5,3e-5,4e-5,5e-5,6e-5,7e-5,8e-5,9e-5,1e-4,2e-4,3e-4,4e-4,5e-4,6e-4,7e-4,8e-4,9e-4,1e-3,2e-3,3e-3],"labels":false,"title":null,"tickSize":{"condition":{"test":"abs(log(datum.value)/LN10-round(log(datum.value)/LN10))<0.01","value":-5},"value":-2.5}}}}},
  {"data":{"values":[{}]},"mark":{"type":"text","text":"m","align":"left","baseline":"middle","font":"Liberation Serif","fontStyle":"italic","fontSize":22,"dx":3},"encoding":{"x":{"datum":382,"type":"quantitative","axis":null},"y":{"datum":7.2e-4,"type":"quantitative","axis":null}}},
  {"data":{"values":[{}]},"mark":{"type":"text","text":"= 3","align":"left","baseline":"middle","font":"Liberation Serif","fontSize":22,"dx":22},"encoding":{"x":{"datum":382,"type":"quantitative","axis":null},"y":{"datum":7.2e-4,"type":"quantitative","axis":null}}}
 ]},
 {"width":242,"height":192,"resolve":{"axis":{"x":"independent","y":"independent"}},"layer":[
  {"data":{"name":"lines"},"transform":[{"filter":"datum.p=='S5'"}],"mark":{"type":"line","strokeWidth":1.1,"clip":true},"encoding":{
   "x":{"field":"x","type":"quantitative","scale":{"type":"log","domain":[1,200000],"nice":false},"axis":{"orient":"bottom","values":[1,100,10000],"ticks":false,"labelExpr":"datum.value<3?'10⁰':datum.value<300?'10²':'10⁴'","title":null}},
   "y":{"field":"y","type":"quantitative","scale":{"type":"log","domain":[4e-7,3.2e-3],"nice":false},"axis":{"orient":"left","values":[1e-6,1e-5,1e-4,1e-3],"ticks":false,"labelExpr":"datum.value<3e-6?'10⁻⁶':datum.value<3e-5?'10⁻⁵':datum.value<3e-4?'10⁻⁴':'10⁻³'","title":null}},
   "color":{"field":"s","type":"nominal","scale":{"domain":["List","QT1","QT2","QT3","DDT","BSPT","NDT","BBT"],"range":["#000000","#6a6ac8","#2b2b8c","#2b2b8c","#e8202a","#1a9a48","#e6127f","#22a7e0"]},"legend":{"title":null,"labelExpr":"datum.label=='BBT'?'BBT':datum.label+','"}},
   "strokeDash":{"field":"s","type":"nominal","scale":{"domain":["List","QT1","QT2","QT3","DDT","BSPT","NDT","BBT"],"range":[[1,0],[1.2,2.2],[5,3],[1,0],[1,0],[1,0],[1,0],[1,0]]},"legend":{"title":null,"labelExpr":"datum.label=='BBT'?'BBT':datum.label+','"}}}},
  {"data":{"name":"bars"},"transform":[{"filter":"datum.p=='S5'"}],"mark":{"type":"rule","strokeWidth":5,"color":"black","strokeCap":"round"},"encoding":{
   "x":{"field":"x","type":"quantitative","scale":{"type":"log","domain":[1,200000],"nice":false},"axis":{"orient":"bottom","values":[1,2,3,4,5,6,7,8,9,10,20,30,40,50,60,70,80,90,100,200,300,400,500,600,700,800,900,1000,2000,3000,4000,5000,6000,7000,8000,9000,10000,20000,30000,40000,50000,60000,70000,80000,90000,100000,200000],"labels":false,"title":null,"tickSize":{"condition":{"test":"abs(log(datum.value)/LN10-round(log(datum.value)/LN10))<0.01","value":-5},"value":-2.5}}},
   "x2":{"field":"x2"},
   "y":{"datum":4e-7,"type":"quantitative","scale":{"type":"log","domain":[4e-7,3.2e-3],"nice":false},"axis":{"orient":"left","values":[4e-7,5e-7,6e-7,7e-7,8e-7,9e-7,1e-6,2e-6,3e-6,4e-6,5e-6,6e-6,7e-6,8e-6,9e-6,1e-5,2e-5,3e-5,4e-5,5e-5,6e-5,7e-5,8e-5,9e-5,1e-4,2e-4,3e-4,4e-4,5e-4,6e-4,7e-4,8e-4,9e-4,1e-3,2e-3,3e-3],"labels":false,"title":null,"tickSize":{"condition":{"test":"abs(log(datum.value)/LN10-round(log(datum.value)/LN10))<0.01","value":-5},"value":-2.5}}}}},
  {"data":{"values":[{}]},"mark":{"type":"text","text":"DTLZ2,","align":"right","baseline":"middle","font":"DejaVu Sans","fontWeight":"bold","fontSize":18},"encoding":{
   "x":{"datum":347,"type":"quantitative","scale":{"type":"log","domain":[1,200000],"nice":false},"axis":{"orient":"top","values":[1,2,3,4,5,6,7,8,9,10,20,30,40,50,60,70,80,90,100,200,300,400,500,600,700,800,900,1000,2000,3000,4000,5000,6000,7000,8000,9000,10000,20000,30000,40000,50000,60000,70000,80000,90000,100000,200000],"labels":false,"title":null,"tickSize":{"condition":{"test":"abs(log(datum.value)/LN10-round(log(datum.value)/LN10))<0.01","value":-5},"value":-2.5}}},
   "y":{"datum":7.2e-4,"type":"quantitative","scale":{"type":"log","domain":[4e-7,3.2e-3],"nice":false},"axis":{"orient":"right","values":[4e-7,5e-7,6e-7,7e-7,8e-7,9e-7,1e-6,2e-6,3e-6,4e-6,5e-6,6e-6,7e-6,8e-6,9e-6,1e-5,2e-5,3e-5,4e-5,5e-5,6e-5,7e-5,8e-5,9e-5,1e-4,2e-4,3e-4,4e-4,5e-4,6e-4,7e-4,8e-4,9e-4,1e-3,2e-3,3e-3],"labels":false,"title":null,"tickSize":{"condition":{"test":"abs(log(datum.value)/LN10-round(log(datum.value)/LN10))<0.01","value":-5},"value":-2.5}}}}},
  {"data":{"values":[{}]},"mark":{"type":"text","text":"m","align":"left","baseline":"middle","font":"Liberation Serif","fontStyle":"italic","fontSize":22,"dx":3},"encoding":{"x":{"datum":347,"type":"quantitative","axis":null},"y":{"datum":7.2e-4,"type":"quantitative","axis":null}}},
  {"data":{"values":[{}]},"mark":{"type":"text","text":"= 5","align":"left","baseline":"middle","font":"Liberation Serif","fontSize":22,"dx":22},"encoding":{"x":{"datum":347,"type":"quantitative","axis":null},"y":{"datum":7.2e-4,"type":"quantitative","axis":null}}}
 ]},
 {"width":242,"height":192,"resolve":{"axis":{"x":"independent","y":"independent"}},"layer":[
  {"data":{"name":"lines"},"transform":[{"filter":"datum.p=='S10'"}],"mark":{"type":"line","strokeWidth":1.1,"clip":true},"encoding":{
   "x":{"field":"x","type":"quantitative","scale":{"type":"log","domain":[1,200000],"nice":false},"axis":{"orient":"bottom","values":[1,100,10000],"ticks":false,"labelExpr":"datum.value<3?'10⁰':datum.value<300?'10²':'10⁴'","title":null}},
   "y":{"field":"y","type":"quantitative","scale":{"type":"log","domain":[4e-7,3.2e-3],"nice":false},"axis":{"orient":"left","values":[1e-6,1e-5,1e-4,1e-3],"ticks":false,"labelExpr":"datum.value<3e-6?'10⁻⁶':datum.value<3e-5?'10⁻⁵':datum.value<3e-4?'10⁻⁴':'10⁻³'","title":null}},
   "color":{"field":"s","type":"nominal","scale":{"domain":["List","QT1","QT2","QT3","DDT","BSPT","NDT","BBT"],"range":["#000000","#6a6ac8","#2b2b8c","#2b2b8c","#e8202a","#1a9a48","#e6127f","#22a7e0"]},"legend":{"title":null,"labelExpr":"datum.label=='BBT'?'BBT':datum.label+','"}},
   "strokeDash":{"field":"s","type":"nominal","scale":{"domain":["List","QT1","QT2","QT3","DDT","BSPT","NDT","BBT"],"range":[[1,0],[1.2,2.2],[5,3],[1,0],[1,0],[1,0],[1,0],[1,0]]},"legend":{"title":null,"labelExpr":"datum.label=='BBT'?'BBT':datum.label+','"}}}},
  {"data":{"name":"bars"},"transform":[{"filter":"datum.p=='S10'"}],"mark":{"type":"rule","strokeWidth":5,"color":"black","strokeCap":"round"},"encoding":{
   "x":{"field":"x","type":"quantitative","scale":{"type":"log","domain":[1,200000],"nice":false},"axis":{"orient":"bottom","values":[1,2,3,4,5,6,7,8,9,10,20,30,40,50,60,70,80,90,100,200,300,400,500,600,700,800,900,1000,2000,3000,4000,5000,6000,7000,8000,9000,10000,20000,30000,40000,50000,60000,70000,80000,90000,100000,200000],"labels":false,"title":null,"tickSize":{"condition":{"test":"abs(log(datum.value)/LN10-round(log(datum.value)/LN10))<0.01","value":-5},"value":-2.5}}},
   "x2":{"field":"x2"},
   "y":{"datum":4e-7,"type":"quantitative","scale":{"type":"log","domain":[4e-7,3.2e-3],"nice":false},"axis":{"orient":"left","values":[4e-7,5e-7,6e-7,7e-7,8e-7,9e-7,1e-6,2e-6,3e-6,4e-6,5e-6,6e-6,7e-6,8e-6,9e-6,1e-5,2e-5,3e-5,4e-5,5e-5,6e-5,7e-5,8e-5,9e-5,1e-4,2e-4,3e-4,4e-4,5e-4,6e-4,7e-4,8e-4,9e-4,1e-3,2e-3,3e-3],"labels":false,"title":null,"tickSize":{"condition":{"test":"abs(log(datum.value)/LN10-round(log(datum.value)/LN10))<0.01","value":-5},"value":-2.5}}}}},
  {"data":{"values":[{}]},"mark":{"type":"text","text":"DTLZ2,","align":"right","baseline":"middle","font":"DejaVu Sans","fontWeight":"bold","fontSize":18},"encoding":{
   "x":{"datum":257,"type":"quantitative","scale":{"type":"log","domain":[1,200000],"nice":false},"axis":{"orient":"top","values":[1,2,3,4,5,6,7,8,9,10,20,30,40,50,60,70,80,90,100,200,300,400,500,600,700,800,900,1000,2000,3000,4000,5000,6000,7000,8000,9000,10000,20000,30000,40000,50000,60000,70000,80000,90000,100000,200000],"labels":false,"title":null,"tickSize":{"condition":{"test":"abs(log(datum.value)/LN10-round(log(datum.value)/LN10))<0.01","value":-5},"value":-2.5}}},
   "y":{"datum":7.2e-4,"type":"quantitative","scale":{"type":"log","domain":[4e-7,3.2e-3],"nice":false},"axis":{"orient":"right","values":[4e-7,5e-7,6e-7,7e-7,8e-7,9e-7,1e-6,2e-6,3e-6,4e-6,5e-6,6e-6,7e-6,8e-6,9e-6,1e-5,2e-5,3e-5,4e-5,5e-5,6e-5,7e-5,8e-5,9e-5,1e-4,2e-4,3e-4,4e-4,5e-4,6e-4,7e-4,8e-4,9e-4,1e-3,2e-3,3e-3],"labels":false,"title":null,"tickSize":{"condition":{"test":"abs(log(datum.value)/LN10-round(log(datum.value)/LN10))<0.01","value":-5},"value":-2.5}}}}},
  {"data":{"values":[{}]},"mark":{"type":"text","text":"m","align":"left","baseline":"middle","font":"Liberation Serif","fontStyle":"italic","fontSize":22,"dx":3},"encoding":{"x":{"datum":257,"type":"quantitative","axis":null},"y":{"datum":7.2e-4,"type":"quantitative","axis":null}}},
  {"data":{"values":[{}]},"mark":{"type":"text","text":"= 10","align":"left","baseline":"middle","font":"Liberation Serif","fontSize":22,"dx":22},"encoding":{"x":{"datum":257,"type":"quantitative","axis":null},"y":{"datum":7.2e-4,"type":"quantitative","axis":null}}}
 ]}
 ]},
{"title":{"text":"Laptop","orient":"left","anchor":"middle","angle":0,"align":"right","baseline":"middle","font":"DejaVu Sans","fontWeight":"bold","fontSize":17,"offset":-12,"dy":-8,"color":"black"},
 "spacing":10,
 "hconcat":[
 {"width":242,"height":192,"resolve":{"axis":{"x":"independent","y":"independent"}},"layer":[
  {"data":{"name":"lines"},"transform":[{"filter":"datum.p=='L2'"}],"mark":{"type":"line","strokeWidth":1.1,"clip":true},"encoding":{
   "x":{"field":"x","type":"quantitative","scale":{"type":"log","domain":[1,200000],"nice":false},"axis":{"orient":"bottom","values":[1,100,10000],"ticks":false,"labelExpr":"datum.value<3?'10⁰':datum.value<300?'10²':'10⁴'","title":"Generations","titlePadding":9}},
   "y":{"field":"y","type":"quantitative","scale":{"type":"log","domain":[4e-7,3.2e-3],"nice":false},"axis":{"orient":"left","values":[1e-6,1e-5,1e-4,1e-3],"ticks":false,"labelExpr":"datum.value<3e-6?'10⁻⁶':datum.value<3e-5?'10⁻⁵':datum.value<3e-4?'10⁻⁴':'10⁻³'","title":"Av. cum. time/gen (s)","titlePadding":6,"titleFontSize":14.5}},
   "color":{"field":"s","type":"nominal","scale":{"domain":["List","QT1","QT2","QT3","DDT","BSPT","NDT","BBT"],"range":["#000000","#6a6ac8","#2b2b8c","#2b2b8c","#e8202a","#1a9a48","#e6127f","#22a7e0"]},"legend":{"title":null,"labelExpr":"datum.label=='BBT'?'BBT':datum.label+','"}},
   "strokeDash":{"field":"s","type":"nominal","scale":{"domain":["List","QT1","QT2","QT3","DDT","BSPT","NDT","BBT"],"range":[[1,0],[1.2,2.2],[5,3],[1,0],[1,0],[1,0],[1,0],[1,0]]},"legend":{"title":null,"labelExpr":"datum.label=='BBT'?'BBT':datum.label+','"}}}},
  {"data":{"name":"bars"},"transform":[{"filter":"datum.p=='L2'"}],"mark":{"type":"rule","strokeWidth":5,"color":"black","strokeCap":"round"},"encoding":{
   "x":{"field":"x","type":"quantitative","scale":{"type":"log","domain":[1,200000],"nice":false},"axis":{"orient":"bottom","values":[1,2,3,4,5,6,7,8,9,10,20,30,40,50,60,70,80,90,100,200,300,400,500,600,700,800,900,1000,2000,3000,4000,5000,6000,7000,8000,9000,10000,20000,30000,40000,50000,60000,70000,80000,90000,100000,200000],"labels":false,"title":null,"tickSize":{"condition":{"test":"abs(log(datum.value)/LN10-round(log(datum.value)/LN10))<0.01","value":-5},"value":-2.5}}},
   "x2":{"field":"x2"},
   "y":{"datum":4e-7,"type":"quantitative","scale":{"type":"log","domain":[4e-7,3.2e-3],"nice":false},"axis":{"orient":"left","values":[4e-7,5e-7,6e-7,7e-7,8e-7,9e-7,1e-6,2e-6,3e-6,4e-6,5e-6,6e-6,7e-6,8e-6,9e-6,1e-5,2e-5,3e-5,4e-5,5e-5,6e-5,7e-5,8e-5,9e-5,1e-4,2e-4,3e-4,4e-4,5e-4,6e-4,7e-4,8e-4,9e-4,1e-3,2e-3,3e-3],"labels":false,"title":null,"tickSize":{"condition":{"test":"abs(log(datum.value)/LN10-round(log(datum.value)/LN10))<0.01","value":-5},"value":-2.5}}}}},
  {"data":{"values":[{}]},"mark":{"type":"text","text":"DTLZ2,","align":"right","baseline":"middle","font":"DejaVu Sans","fontWeight":"bold","fontSize":18},"encoding":{
   "x":{"datum":425,"type":"quantitative","scale":{"type":"log","domain":[1,200000],"nice":false},"axis":{"orient":"top","values":[1,2,3,4,5,6,7,8,9,10,20,30,40,50,60,70,80,90,100,200,300,400,500,600,700,800,900,1000,2000,3000,4000,5000,6000,7000,8000,9000,10000,20000,30000,40000,50000,60000,70000,80000,90000,100000,200000],"labels":false,"title":null,"tickSize":{"condition":{"test":"abs(log(datum.value)/LN10-round(log(datum.value)/LN10))<0.01","value":-5},"value":-2.5}}},
   "y":{"datum":7.2e-4,"type":"quantitative","scale":{"type":"log","domain":[4e-7,3.2e-3],"nice":false},"axis":{"orient":"right","values":[4e-7,5e-7,6e-7,7e-7,8e-7,9e-7,1e-6,2e-6,3e-6,4e-6,5e-6,6e-6,7e-6,8e-6,9e-6,1e-5,2e-5,3e-5,4e-5,5e-5,6e-5,7e-5,8e-5,9e-5,1e-4,2e-4,3e-4,4e-4,5e-4,6e-4,7e-4,8e-4,9e-4,1e-3,2e-3,3e-3],"labels":false,"title":null,"tickSize":{"condition":{"test":"abs(log(datum.value)/LN10-round(log(datum.value)/LN10))<0.01","value":-5},"value":-2.5}}}}},
  {"data":{"values":[{}]},"mark":{"type":"text","text":"m","align":"left","baseline":"middle","font":"Liberation Serif","fontStyle":"italic","fontSize":22,"dx":3},"encoding":{"x":{"datum":425,"type":"quantitative","axis":null},"y":{"datum":7.2e-4,"type":"quantitative","axis":null}}},
  {"data":{"values":[{}]},"mark":{"type":"text","text":"= 2","align":"left","baseline":"middle","font":"Liberation Serif","fontSize":22,"dx":22},"encoding":{"x":{"datum":425,"type":"quantitative","axis":null},"y":{"datum":7.2e-4,"type":"quantitative","axis":null}}}
 ]},
 {"width":242,"height":192,"resolve":{"axis":{"x":"independent","y":"independent"}},"layer":[
  {"data":{"name":"lines"},"transform":[{"filter":"datum.p=='L3'"}],"mark":{"type":"line","strokeWidth":1.1,"clip":true},"encoding":{
   "x":{"field":"x","type":"quantitative","scale":{"type":"log","domain":[1,200000],"nice":false},"axis":{"orient":"bottom","values":[1,100,10000],"ticks":false,"labelExpr":"datum.value<3?'10⁰':datum.value<300?'10²':'10⁴'","title":"Generations","titlePadding":9}},
   "y":{"field":"y","type":"quantitative","scale":{"type":"log","domain":[4e-7,3.2e-3],"nice":false},"axis":{"orient":"left","values":[1e-6,1e-5,1e-4,1e-3],"ticks":false,"labelExpr":"datum.value<3e-6?'10⁻⁶':datum.value<3e-5?'10⁻⁵':datum.value<3e-4?'10⁻⁴':'10⁻³'","title":null}},
   "color":{"field":"s","type":"nominal","scale":{"domain":["List","QT1","QT2","QT3","DDT","BSPT","NDT","BBT"],"range":["#000000","#6a6ac8","#2b2b8c","#2b2b8c","#e8202a","#1a9a48","#e6127f","#22a7e0"]},"legend":{"title":null,"labelExpr":"datum.label=='BBT'?'BBT':datum.label+','"}},
   "strokeDash":{"field":"s","type":"nominal","scale":{"domain":["List","QT1","QT2","QT3","DDT","BSPT","NDT","BBT"],"range":[[1,0],[1.2,2.2],[5,3],[1,0],[1,0],[1,0],[1,0],[1,0]]},"legend":{"title":null,"labelExpr":"datum.label=='BBT'?'BBT':datum.label+','"}}}},
  {"data":{"name":"bars"},"transform":[{"filter":"datum.p=='L3'"}],"mark":{"type":"rule","strokeWidth":5,"color":"black","strokeCap":"round"},"encoding":{
   "x":{"field":"x","type":"quantitative","scale":{"type":"log","domain":[1,200000],"nice":false},"axis":{"orient":"bottom","values":[1,2,3,4,5,6,7,8,9,10,20,30,40,50,60,70,80,90,100,200,300,400,500,600,700,800,900,1000,2000,3000,4000,5000,6000,7000,8000,9000,10000,20000,30000,40000,50000,60000,70000,80000,90000,100000,200000],"labels":false,"title":null,"tickSize":{"condition":{"test":"abs(log(datum.value)/LN10-round(log(datum.value)/LN10))<0.01","value":-5},"value":-2.5}}},
   "x2":{"field":"x2"},
   "y":{"datum":4e-7,"type":"quantitative","scale":{"type":"log","domain":[4e-7,3.2e-3],"nice":false},"axis":{"orient":"left","values":[4e-7,5e-7,6e-7,7e-7,8e-7,9e-7,1e-6,2e-6,3e-6,4e-6,5e-6,6e-6,7e-6,8e-6,9e-6,1e-5,2e-5,3e-5,4e-5,5e-5,6e-5,7e-5,8e-5,9e-5,1e-4,2e-4,3e-4,4e-4,5e-4,6e-4,7e-4,8e-4,9e-4,1e-3,2e-3,3e-3],"labels":false,"title":null,"tickSize":{"condition":{"test":"abs(log(datum.value)/LN10-round(log(datum.value)/LN10))<0.01","value":-5},"value":-2.5}}}}},
  {"data":{"values":[{}]},"mark":{"type":"text","text":"DTLZ2,","align":"right","baseline":"middle","font":"DejaVu Sans","fontWeight":"bold","fontSize":18},"encoding":{
   "x":{"datum":382,"type":"quantitative","scale":{"type":"log","domain":[1,200000],"nice":false},"axis":{"orient":"top","values":[1,2,3,4,5,6,7,8,9,10,20,30,40,50,60,70,80,90,100,200,300,400,500,600,700,800,900,1000,2000,3000,4000,5000,6000,7000,8000,9000,10000,20000,30000,40000,50000,60000,70000,80000,90000,100000,200000],"labels":false,"title":null,"tickSize":{"condition":{"test":"abs(log(datum.value)/LN10-round(log(datum.value)/LN10))<0.01","value":-5},"value":-2.5}}},
   "y":{"datum":7.2e-4,"type":"quantitative","scale":{"type":"log","domain":[4e-7,3.2e-3],"nice":false},"axis":{"orient":"right","values":[4e-7,5e-7,6e-7,7e-7,8e-7,9e-7,1e-6,2e-6,3e-6,4e-6,5e-6,6e-6,7e-6,8e-6,9e-6,1e-5,2e-5,3e-5,4e-5,5e-5,6e-5,7e-5,8e-5,9e-5,1e-4,2e-4,3e-4,4e-4,5e-4,6e-4,7e-4,8e-4,9e-4,1e-3,2e-3,3e-3],"labels":false,"title":null,"tickSize":{"condition":{"test":"abs(log(datum.value)/LN10-round(log(datum.value)/LN10))<0.01","value":-5},"value":-2.5}}}}},
  {"data":{"values":[{}]},"mark":{"type":"text","text":"m","align":"left","baseline":"middle","font":"Liberation Serif","fontStyle":"italic","fontSize":22,"dx":3},"encoding":{"x":{"datum":382,"type":"quantitative","axis":null},"y":{"datum":7.2e-4,"type":"quantitative","axis":null}}},
  {"data":{"values":[{}]},"mark":{"type":"text","text":"= 3","align":"left","baseline":"middle","font":"Liberation Serif","fontSize":22,"dx":22},"encoding":{"x":{"datum":382,"type":"quantitative","axis":null},"y":{"datum":7.2e-4,"type":"quantitative","axis":null}}}
 ]},
 {"width":242,"height":192,"resolve":{"axis":{"x":"independent","y":"independent"}},"layer":[
  {"data":{"name":"lines"},"transform":[{"filter":"datum.p=='L5'"}],"mark":{"type":"line","strokeWidth":1.1,"clip":true},"encoding":{
   "x":{"field":"x","type":"quantitative","scale":{"type":"log","domain":[1,200000],"nice":false},"axis":{"orient":"bottom","values":[1,100,10000],"ticks":false,"labelExpr":"datum.value<3?'10⁰':datum.value<300?'10²':'10⁴'","title":"Generations","titlePadding":9}},
   "y":{"field":"y","type":"quantitative","scale":{"type":"log","domain":[4e-7,3.2e-3],"nice":false},"axis":{"orient":"left","values":[1e-6,1e-5,1e-4,1e-3],"ticks":false,"labelExpr":"datum.value<3e-6?'10⁻⁶':datum.value<3e-5?'10⁻⁵':datum.value<3e-4?'10⁻⁴':'10⁻³'","title":null}},
   "color":{"field":"s","type":"nominal","scale":{"domain":["List","QT1","QT2","QT3","DDT","BSPT","NDT","BBT"],"range":["#000000","#6a6ac8","#2b2b8c","#2b2b8c","#e8202a","#1a9a48","#e6127f","#22a7e0"]},"legend":{"title":null,"labelExpr":"datum.label=='BBT'?'BBT':datum.label+','"}},
   "strokeDash":{"field":"s","type":"nominal","scale":{"domain":["List","QT1","QT2","QT3","DDT","BSPT","NDT","BBT"],"range":[[1,0],[1.2,2.2],[5,3],[1,0],[1,0],[1,0],[1,0],[1,0]]},"legend":{"title":null,"labelExpr":"datum.label=='BBT'?'BBT':datum.label+','"}}}},
  {"data":{"name":"bars"},"transform":[{"filter":"datum.p=='L5'"}],"mark":{"type":"rule","strokeWidth":5,"color":"black","strokeCap":"round"},"encoding":{
   "x":{"field":"x","type":"quantitative","scale":{"type":"log","domain":[1,200000],"nice":false},"axis":{"orient":"bottom","values":[1,2,3,4,5,6,7,8,9,10,20,30,40,50,60,70,80,90,100,200,300,400,500,600,700,800,900,1000,2000,3000,4000,5000,6000,7000,8000,9000,10000,20000,30000,40000,50000,60000,70000,80000,90000,100000,200000],"labels":false,"title":null,"tickSize":{"condition":{"test":"abs(log(datum.value)/LN10-round(log(datum.value)/LN10))<0.01","value":-5},"value":-2.5}}},
   "x2":{"field":"x2"},
   "y":{"datum":4e-7,"type":"quantitative","scale":{"type":"log","domain":[4e-7,3.2e-3],"nice":false},"axis":{"orient":"left","values":[4e-7,5e-7,6e-7,7e-7,8e-7,9e-7,1e-6,2e-6,3e-6,4e-6,5e-6,6e-6,7e-6,8e-6,9e-6,1e-5,2e-5,3e-5,4e-5,5e-5,6e-5,7e-5,8e-5,9e-5,1e-4,2e-4,3e-4,4e-4,5e-4,6e-4,7e-4,8e-4,9e-4,1e-3,2e-3,3e-3],"labels":false,"title":null,"tickSize":{"condition":{"test":"abs(log(datum.value)/LN10-round(log(datum.value)/LN10))<0.01","value":-5},"value":-2.5}}}}},
  {"data":{"values":[{}]},"mark":{"type":"text","text":"DTLZ2,","align":"right","baseline":"middle","font":"DejaVu Sans","fontWeight":"bold","fontSize":18},"encoding":{
   "x":{"datum":347,"type":"quantitative","scale":{"type":"log","domain":[1,200000],"nice":false},"axis":{"orient":"top","values":[1,2,3,4,5,6,7,8,9,10,20,30,40,50,60,70,80,90,100,200,300,400,500,600,700,800,900,1000,2000,3000,4000,5000,6000,7000,8000,9000,10000,20000,30000,40000,50000,60000,70000,80000,90000,100000,200000],"labels":false,"title":null,"tickSize":{"condition":{"test":"abs(log(datum.value)/LN10-round(log(datum.value)/LN10))<0.01","value":-5},"value":-2.5}}},
   "y":{"datum":7.2e-4,"type":"quantitative","scale":{"type":"log","domain":[4e-7,3.2e-3],"nice":false},"axis":{"orient":"right","values":[4e-7,5e-7,6e-7,7e-7,8e-7,9e-7,1e-6,2e-6,3e-6,4e-6,5e-6,6e-6,7e-6,8e-6,9e-6,1e-5,2e-5,3e-5,4e-5,5e-5,6e-5,7e-5,8e-5,9e-5,1e-4,2e-4,3e-4,4e-4,5e-4,6e-4,7e-4,8e-4,9e-4,1e-3,2e-3,3e-3],"labels":false,"title":null,"tickSize":{"condition":{"test":"abs(log(datum.value)/LN10-round(log(datum.value)/LN10))<0.01","value":-5},"value":-2.5}}}}},
  {"data":{"values":[{}]},"mark":{"type":"text","text":"m","align":"left","baseline":"middle","font":"Liberation Serif","fontStyle":"italic","fontSize":22,"dx":3},"encoding":{"x":{"datum":347,"type":"quantitative","axis":null},"y":{"datum":7.2e-4,"type":"quantitative","axis":null}}},
  {"data":{"values":[{}]},"mark":{"type":"text","text":"= 5","align":"left","baseline":"middle","font":"Liberation Serif","fontSize":22,"dx":22},"encoding":{"x":{"datum":347,"type":"quantitative","axis":null},"y":{"datum":7.2e-4,"type":"quantitative","axis":null}}}
 ]},
 {"width":242,"height":192,"resolve":{"axis":{"x":"independent","y":"independent"}},"layer":[
  {"data":{"name":"lines"},"transform":[{"filter":"datum.p=='L10'"}],"mark":{"type":"line","strokeWidth":1.1,"clip":true},"encoding":{
   "x":{"field":"x","type":"quantitative","scale":{"type":"log","domain":[1,200000],"nice":false},"axis":{"orient":"bottom","values":[1,100,10000],"ticks":false,"labelExpr":"datum.value<3?'10⁰':datum.value<300?'10²':'10⁴'","title":"Generations","titlePadding":9}},
   "y":{"field":"y","type":"quantitative","scale":{"type":"log","domain":[4e-7,3.2e-3],"nice":false},"axis":{"orient":"left","values":[1e-6,1e-5,1e-4,1e-3],"ticks":false,"labelExpr":"datum.value<3e-6?'10⁻⁶':datum.value<3e-5?'10⁻⁵':datum.value<3e-4?'10⁻⁴':'10⁻³'","title":null}},
   "color":{"field":"s","type":"nominal","scale":{"domain":["List","QT1","QT2","QT3","DDT","BSPT","NDT","BBT"],"range":["#000000","#6a6ac8","#2b2b8c","#2b2b8c","#e8202a","#1a9a48","#e6127f","#22a7e0"]},"legend":{"title":null,"labelExpr":"datum.label=='BBT'?'BBT':datum.label+','"}},
   "strokeDash":{"field":"s","type":"nominal","scale":{"domain":["List","QT1","QT2","QT3","DDT","BSPT","NDT","BBT"],"range":[[1,0],[1.2,2.2],[5,3],[1,0],[1,0],[1,0],[1,0],[1,0]]},"legend":{"title":null,"labelExpr":"datum.label=='BBT'?'BBT':datum.label+','"}}}},
  {"data":{"name":"bars"},"transform":[{"filter":"datum.p=='L10'"}],"mark":{"type":"rule","strokeWidth":5,"color":"black","strokeCap":"round"},"encoding":{
   "x":{"field":"x","type":"quantitative","scale":{"type":"log","domain":[1,200000],"nice":false},"axis":{"orient":"bottom","values":[1,2,3,4,5,6,7,8,9,10,20,30,40,50,60,70,80,90,100,200,300,400,500,600,700,800,900,1000,2000,3000,4000,5000,6000,7000,8000,9000,10000,20000,30000,40000,50000,60000,70000,80000,90000,100000,200000],"labels":false,"title":null,"tickSize":{"condition":{"test":"abs(log(datum.value)/LN10-round(log(datum.value)/LN10))<0.01","value":-5},"value":-2.5}}},
   "x2":{"field":"x2"},
   "y":{"datum":4e-7,"type":"quantitative","scale":{"type":"log","domain":[4e-7,3.2e-3],"nice":false},"axis":{"orient":"left","values":[4e-7,5e-7,6e-7,7e-7,8e-7,9e-7,1e-6,2e-6,3e-6,4e-6,5e-6,6e-6,7e-6,8e-6,9e-6,1e-5,2e-5,3e-5,4e-5,5e-5,6e-5,7e-5,8e-5,9e-5,1e-4,2e-4,3e-4,4e-4,5e-4,6e-4,7e-4,8e-4,9e-4,1e-3,2e-3,3e-3],"labels":false,"title":null,"tickSize":{"condition":{"test":"abs(log(datum.value)/LN10-round(log(datum.value)/LN10))<0.01","value":-5},"value":-2.5}}}}},
  {"data":{"values":[{}]},"mark":{"type":"text","text":"DTLZ2,","align":"right","baseline":"middle","font":"DejaVu Sans","fontWeight":"bold","fontSize":18},"encoding":{
   "x":{"datum":257,"type":"quantitative","scale":{"type":"log","domain":[1,200000],"nice":false},"axis":{"orient":"top","values":[1,2,3,4,5,6,7,8,9,10,20,30,40,50,60,70,80,90,100,200,300,400,500,600,700,800,900,1000,2000,3000,4000,5000,6000,7000,8000,9000,10000,20000,30000,40000,50000,60000,70000,80000,90000,100000,200000],"labels":false,"title":null,"tickSize":{"condition":{"test":"abs(log(datum.value)/LN10-round(log(datum.value)/LN10))<0.01","value":-5},"value":-2.5}}},
   "y":{"datum":7.2e-4,"type":"quantitative","scale":{"type":"log","domain":[4e-7,3.2e-3],"nice":false},"axis":{"orient":"right","values":[4e-7,5e-7,6e-7,7e-7,8e-7,9e-7,1e-6,2e-6,3e-6,4e-6,5e-6,6e-6,7e-6,8e-6,9e-6,1e-5,2e-5,3e-5,4e-5,5e-5,6e-5,7e-5,8e-5,9e-5,1e-4,2e-4,3e-4,4e-4,5e-4,6e-4,7e-4,8e-4,9e-4,1e-3,2e-3,3e-3],"labels":false,"title":null,"tickSize":{"condition":{"test":"abs(log(datum.value)/LN10-round(log(datum.value)/LN10))<0.01","value":-5},"value":-2.5}}}}},
  {"data":{"values":[{}]},"mark":{"type":"text","text":"m","align":"left","baseline":"middle","font":"Liberation Serif","fontStyle":"italic","fontSize":22,"dx":3},"encoding":{"x":{"datum":257,"type":"quantitative","axis":null},"y":{"datum":7.2e-4,"type":"quantitative","axis":null}}},
  {"data":{"values":[{}]},"mark":{"type":"text","text":"= 10","align":"left","baseline":"middle","font":"Liberation Serif","fontSize":22,"dx":22},"encoding":{"x":{"datum":257,"type":"quantitative","axis":null},"y":{"datum":7.2e-4,"type":"quantitative","axis":null}}}
 ]}
 ]}
]
}
